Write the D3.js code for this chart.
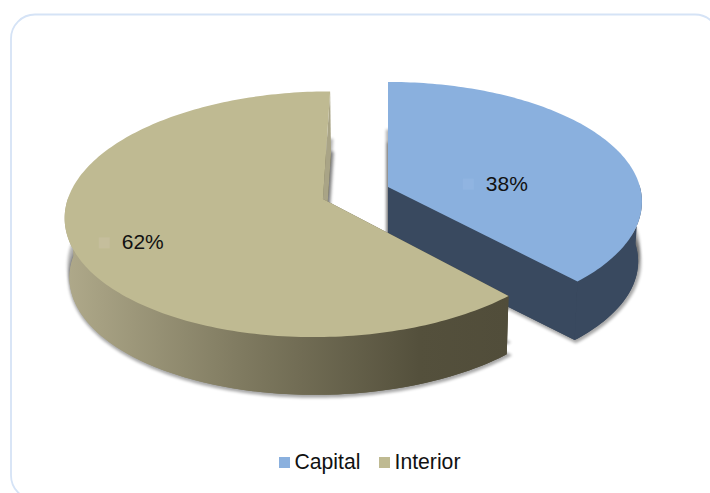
<!DOCTYPE html>
<html>
<head>
<meta charset="utf-8">
<script src="https://cdn.jsdelivr.net/npm/d3@7"></script>
<style>
  html, body { margin: 0; padding: 0; background: #fff; }
  text { font-family: "Liberation Sans", Arial, sans-serif; fill: #111; }
</style>
</head>
<body>
<svg id="chart" width="710" height="493"></svg>
<script>
// Share of cases by region
const categories = ["Capital", "Interior"];
const shares = [38, 62];
const labels = ["38%", "62%"];
const topColors = ["#8AB0DE", "#BFBA92"];
const keyColors = ["#90B4E1", "#C5BE9C"];

// Disc projection: a tilted disc seen in perspective
const view = { vx: 388, vy: 187, rx: 252, ry: 118, k: 0.123, depth: 60, shrink: 0.985 };
// Where each exploded slice sits on the disc plane, in radius units
const sliceOffsets = [[0, 0], [-0.255, -0.1]];
const labelNudge = [[-18, 28], [-32, 22]];

const svg = d3.select("#chart");
const defs = svg.append("defs");

defs.append("filter").attr("id", "soft")
  .attr("x", "-10%").attr("y", "-10%").attr("width", "120%").attr("height", "120%")
  .append("feGaussianBlur").attr("stdDeviation", 1.6);

const sideGradient = defs.append("linearGradient").attr("id", "interiorSide")
  .attr("gradientUnits", "userSpaceOnUse")
  .attr("x1", 66).attr("x2", 508).attr("y1", 0).attr("y2", 0);
[[0, "#AFA98A"], [0.4, "#7F7A60"], [0.8, "#54503C"], [1, "#514D3A"]].forEach(([o, c]) =>
  sideGradient.append("stop").attr("offset", o).attr("stop-color", c));

const sideColors = ["#39495F", "url(#interiorSide)"];
const cutColors = ["#39495F", "#A9A486"];

// Chart frame
svg.append("rect")
  .attr("x", 11).attr("y", 14.5).attr("width", 708).attr("height", 485).attr("rx", 24)
  .attr("fill", "#fff").attr("stroke", "#D5E3F6").attr("stroke-width", 1.8);

const slices = d3.pie().sort(null).startAngle(0).endAngle(2 * Math.PI)(shares);

function project(offset, radius, angle, level) {
  const U = offset[0] + radius * Math.sin(angle);
  const V = offset[1] + radius * Math.cos(angle);
  const w = 1 + view.k * V;
  const s = 1 - (1 - view.shrink) * level;
  return [
    view.vx + (view.rx * U / w) * s,
    view.vy - (view.ry * V / w) * s + view.depth * level
  ];
}

function arcPoints(offset, a0, a1, level) {
  const n = Math.ceil(Math.abs(a1 - a0) / 0.02);
  return d3.range(n + 1).map(i => project(offset, 1, a0 + (a1 - a0) * i / n, level));
}

const line = d3.line().curve(d3.curveLinear);

function sectorPath(offset, slice, level) {
  return line([project(offset, 0, 0, level), ...arcPoints(offset, slice.startAngle, slice.endAngle, level)]) + "Z";
}

// Front wall: outer rim between top and bottom disc, limited to the angles facing the viewer
function rimPath(offset, slice) {
  const a0 = Math.max(slice.startAngle, Math.PI / 2 - 0.02);
  const a1 = Math.min(slice.endAngle, 3 * Math.PI / 2 + 0.02);
  return line([...arcPoints(offset, a0, a1, 0), ...arcPoints(offset, a1, a0, 1)]) + "Z";
}

// Flat cut wall along one radial edge
function cutPath(offset, angle) {
  return line([
    project(offset, 0, 0, 0), project(offset, 1, angle, 0),
    project(offset, 1, angle, 1), project(offset, 0, 0, 1)
  ]) + "Z";
}

const groups = svg.selectAll("g.slice").data(slices).join("g").attr("class", "slice");

groups.each(function (d, i) {
  const g = d3.select(this);
  const offset = sliceOffsets[i];

  // soft drop shadow under the lower disc
  g.append("path")
    .attr("d", sectorPath(offset, d, 1))
    .attr("transform", "translate(1,1)")
    .attr("fill", "#000").attr("stroke", "#000").attr("stroke-width", 4)
    .attr("opacity", 0.34).attr("filter", "url(#soft)");

  // the same shadow creeping up behind the cut edge nearest the gap
  g.append("path")
    .attr("d", sectorPath(offset, d, 1))
    .attr("transform", "translate(0,-12)")
    .attr("fill", "#000").attr("stroke", "#000").attr("stroke-width", 4)
    .attr("opacity", 0.3).attr("filter", "url(#soft)");

  g.append("path").attr("d", sectorPath(offset, d, 1)).attr("fill", sideColors[i]);
  g.append("path").attr("d", cutPath(offset, d.endAngle)).attr("fill", cutColors[i]);
  g.append("path").attr("d", cutPath(offset, d.startAngle)).attr("fill", sideColors[i]);
  g.append("path").attr("d", rimPath(offset, d)).attr("fill", sideColors[i]);
  g.append("path").attr("d", sectorPath(offset, d, 0)).attr("fill", topColors[i]);

  // value label with its faint key swatch
  const mid = (d.startAngle + d.endAngle) / 2;
  const [px, py] = project(offset, 0.6, mid, 0);
  const lx = px + labelNudge[i][0];
  const ly = py + labelNudge[i][1];
  g.append("rect").attr("x", lx - 44).attr("y", ly - 11).attr("width", 11).attr("height", 11)
    .attr("fill", keyColors[i]);
  g.append("text").attr("x", lx - 21).attr("y", ly + 1).attr("font-size", 21)
    .text(labels[i]);
});

// Legend along the bottom
const legendX = d3.scalePoint().domain(categories).range([279, 379]);
const legend = svg.selectAll("g.key").data(categories).join("g").attr("class", "key")
  .attr("transform", c => `translate(${legendX(c)},457)`);
legend.append("rect").attr("width", 11).attr("height", 11)
  .attr("fill", (c, i) => topColors[i]);
legend.append("text").attr("x", 15.5).attr("y", 12).attr("font-size", 21.2).text(c => c);
</script>
</body>
</html>
